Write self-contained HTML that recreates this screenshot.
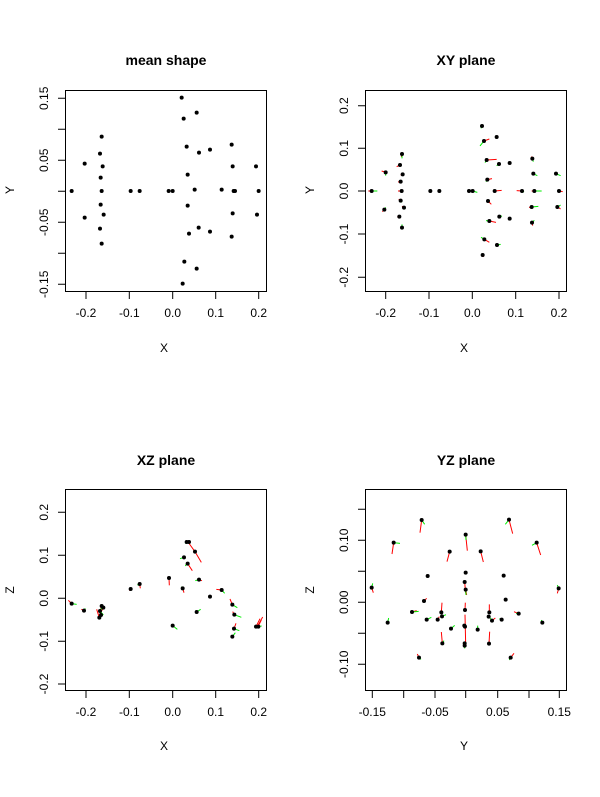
<!DOCTYPE html>
<html><head><meta charset="utf-8"><style>body{margin:0;background:#fff}svg{display:block}text{font-family:"Liberation Sans",Arial,sans-serif;fill:#000}</style></head><body>
<svg width="600" height="797" viewBox="0 0 600 797" xmlns="http://www.w3.org/2000/svg">
<g font-size="14" font-weight="bold" text-anchor="middle">
<text x="166" y="65">mean shape</text><text x="466" y="65">XY plane</text>
<text x="166" y="465">XZ plane</text><text x="466" y="465">YZ plane</text></g>
<g font-size="12" text-anchor="middle">
<text x="164" y="352">X</text><text x="464" y="352">X</text>
<text x="164" y="750">X</text><text x="464" y="750">Y</text>
<text transform="translate(14,190) rotate(-90)">Y</text>
<text transform="translate(314,190) rotate(-90)">Y</text>
<text transform="translate(14,590) rotate(-90)">Z</text>
<text transform="translate(314,590) rotate(-90)">Z</text>
</g>
<g fill="none" stroke="#000" stroke-width="1">
<rect x="65.5" y="90.5" width="201" height="201"/>
<rect x="365.5" y="90.5" width="201" height="201"/>
<rect x="65.5" y="489.5" width="201" height="201"/>
<rect x="365.5" y="489.5" width="201" height="201"/>
<path d="M86,292v7M129.3,292v7M172.7,292v7M215.7,292v7M258.7,292v7M65,98.3h-7M65,129.3h-7M65,160.3h-7M65,191.3h-7M65,222.3h-7M65,253.3h-7M65,284.3h-7"/>
<path d="M385.7,292v7M429,292v7M472.3,292v7M515.7,292v7M559,292v7M365,105.7h-7M365,148.3h-7M365,191h-7M365,234h-7M365,277.3h-7"/>
<path d="M86,691v7M129.3,691v7M172.7,691v7M215.7,691v7M258.7,691v7M65,512.3h-7M65,555.3h-7M65,598.3h-7M65,641.3h-7M65,684h-7"/>
<path d="M372.3,691v7M403.7,691v7M435,691v7M465.7,691v7M497.7,691v7M529,691v7M559.3,691v7M365,509.3h-7M365,540.3h-7M365,571.3h-7M365,602.3h-7M365,633.3h-7M365,664.3h-7"/>
</g>
<g font-size="12" text-anchor="middle">
<text x="86" y="317">-0.2</text><text x="129.3" y="317">-0.1</text><text x="172.7" y="317">0.0</text><text x="215.7" y="317">0.1</text><text x="258.7" y="317">0.2</text>
<text x="385.7" y="317">-0.2</text><text x="429" y="317">-0.1</text><text x="472.3" y="317">0.0</text><text x="515.7" y="317">0.1</text><text x="559" y="317">0.2</text>
<text x="86" y="716">-0.2</text><text x="129.3" y="716">-0.1</text><text x="172.7" y="716">0.0</text><text x="215.7" y="716">0.1</text><text x="258.7" y="716">0.2</text>
<text x="372.3" y="716">-0.15</text><text x="435" y="716">-0.05</text><text x="497.7" y="716">0.05</text><text x="559.3" y="716">0.15</text>
<text transform="translate(48,98.3) rotate(-90)">0.15</text><text transform="translate(48,160.3) rotate(-90)">0.05</text><text transform="translate(48,222.3) rotate(-90)">-0.05</text><text transform="translate(48,284.3) rotate(-90)">-0.15</text>
<text transform="translate(348,105.7) rotate(-90)">0.2</text><text transform="translate(348,148.3) rotate(-90)">0.1</text><text transform="translate(348,191) rotate(-90)">0.0</text><text transform="translate(348,234) rotate(-90)">-0.1</text><text transform="translate(348,277.3) rotate(-90)">-0.2</text>
<text transform="translate(48,512.3) rotate(-90)">0.2</text><text transform="translate(48,555.3) rotate(-90)">0.1</text><text transform="translate(48,598.3) rotate(-90)">0.0</text><text transform="translate(48,641.3) rotate(-90)">-0.1</text><text transform="translate(48,684) rotate(-90)">-0.2</text>
<text transform="translate(348,540.3) rotate(-90)">0.10</text><text transform="translate(348,602.3) rotate(-90)">0.00</text><text transform="translate(348,664.3) rotate(-90)">-0.10</text>
</g>
<!-- panel 1 -->
<g transform="translate(40,85) scale(0.33333)" fill="#000">
<circle cx="425" cy="38" r="6"/><circle cx="470" cy="83" r="6"/><circle cx="431" cy="101" r="6"/><circle cx="185" cy="155" r="6"/><circle cx="575" cy="179" r="6"/><circle cx="440" cy="185" r="6"/><circle cx="510" cy="194" r="6"/><circle cx="180" cy="206" r="6"/><circle cx="477" cy="203" r="6"/><circle cx="134" cy="236" r="6"/><circle cx="188" cy="244" r="6"/><circle cx="578" cy="244" r="6"/><circle cx="648" cy="244" r="6"/><circle cx="182" cy="278" r="6"/><circle cx="443" cy="269" r="6"/><circle cx="95" cy="318" r="6"/><circle cx="185" cy="318" r="6"/><circle cx="272" cy="318" r="6"/><circle cx="299" cy="318" r="6"/><circle cx="386" cy="318" r="6"/><circle cx="398" cy="318" r="6"/><circle cx="464" cy="314" r="6"/><circle cx="545" cy="314" r="6"/><circle cx="581" cy="318" r="6"/><circle cx="585" cy="318" r="6"/><circle cx="656" cy="318" r="6"/><circle cx="182" cy="359" r="6"/><circle cx="443" cy="362" r="6"/><circle cx="191" cy="389" r="6"/><circle cx="578" cy="385" r="6"/><circle cx="651" cy="389" r="6"/><circle cx="134" cy="398" r="6"/><circle cx="180" cy="431" r="6"/><circle cx="476" cy="428" r="6"/><circle cx="510" cy="440" r="6"/><circle cx="447" cy="446" r="6"/><circle cx="575" cy="455" r="6"/><circle cx="185" cy="476" r="6"/><circle cx="433" cy="530" r="6"/><circle cx="470" cy="551" r="6"/><circle cx="428" cy="596" r="6"/>
</g>
<!-- panel 2 -->
<g transform="translate(320,85) scale(0.33333)">
<g stroke="#ff0000" stroke-width="3" fill="none"><path d="M155,318L145,318M197,262L185,258M193,374L187,380M240,240L230,245M246,207L244,216M248,268L242,270M242,290L234,291M245,318L234,318M242,347L236,343M252,368L246,364M238,395L232,396M492,168L508,162M500,225L530,223M502,284L516,281M524,318L545,316M504,348L514,358M508,408L528,412M493,463L508,472M488,510L490,516M606,318L590,317M637,221L635,214M643,318L635,318M635,366L627,367M636,413L638,422M717,318L728,320M712,366L722,372"/></g>
<g stroke="#00ee00" stroke-width="3" fill="none"><path d="M155,318L172,318M197,262L197,272M193,374L197,367M246,207L246,220M245,318L250,318M242,347L246,352M252,368L256,372M246,428L246,418M458,318L472,322M486,123L483,130M492,168L480,183M500,225L495,233M537,237L530,242M502,284L498,290M508,408L498,407M538,395L546,393M531,480L542,478M493,463L483,457M606,318L612,321M637,221L640,230M640,266L652,272M643,318L665,318M635,366L655,364M636,413L643,406M708,266L722,272M717,318L712,318M712,366L722,360"/></g>
<g fill="#000"><circle cx="155" cy="318" r="6"/><circle cx="197" cy="262" r="6"/><circle cx="193" cy="374" r="6"/><circle cx="240" cy="240" r="6"/><circle cx="246" cy="207" r="6"/><circle cx="248" cy="268" r="6"/><circle cx="242" cy="290" r="6"/><circle cx="245" cy="318" r="6"/><circle cx="242" cy="347" r="6"/><circle cx="252" cy="368" r="6"/><circle cx="238" cy="395" r="6"/><circle cx="246" cy="428" r="6"/><circle cx="331" cy="318" r="6"/><circle cx="358" cy="318" r="6"/><circle cx="447" cy="318" r="6"/><circle cx="458" cy="318" r="6"/><circle cx="486" cy="123" r="6"/><circle cx="492" cy="168" r="6"/><circle cx="530" cy="156" r="6"/><circle cx="500" cy="225" r="6"/><circle cx="537" cy="237" r="6"/><circle cx="569" cy="234" r="6"/><circle cx="502" cy="284" r="6"/><circle cx="524" cy="318" r="6"/><circle cx="504" cy="348" r="6"/><circle cx="508" cy="408" r="6"/><circle cx="538" cy="395" r="6"/><circle cx="569" cy="401" r="6"/><circle cx="493" cy="463" r="6"/><circle cx="531" cy="480" r="6"/><circle cx="488" cy="510" r="6"/><circle cx="606" cy="318" r="6"/><circle cx="637" cy="221" r="6"/><circle cx="640" cy="266" r="6"/><circle cx="643" cy="318" r="6"/><circle cx="635" cy="366" r="6"/><circle cx="636" cy="413" r="6"/><circle cx="708" cy="266" r="6"/><circle cx="717" cy="318" r="6"/><circle cx="712" cy="366" r="6"/></g>
</g>
<!-- panel 3 -->
<g transform="translate(40,480) scale(0.33333)">
<g stroke="#ff0000" stroke-width="3" fill="none"><path d="M95,371L85,361M132,392L124,388M185,378L180,395M178,413L170,388M190,383L176,410M272,327L268,332M299,312L301,325M387,294L388,316M428,325L432,338M444,186L465,215L484,247M443,251L457,272M477,299L486,302M545,330L529,328M577,374L570,357M583,404L578,395M582,446L588,430M652,440L668,411M648,440L660,416M655,438L664,420"/></g>
<g stroke="#00ee00" stroke-width="3" fill="none"><path d="M95,371L110,373M132,392L136,385M185,378L182,400M180,393L190,405M183,405L176,415M299,312L292,315M428,325L424,320M398,437L412,448M444,186L435,190M432,232L420,236M440,251L436,258M477,299L466,302M545,330L554,340M470,396L482,388M577,374L592,383M583,404L604,412M582,446L598,452M577,470L586,458M652,440L665,438"/></g>
<g fill="#000"><circle cx="95" cy="371" r="6"/><circle cx="132" cy="392" r="6"/><circle cx="185" cy="378" r="6"/><circle cx="190" cy="383" r="6"/><circle cx="180" cy="393" r="6"/><circle cx="183" cy="405" r="6"/><circle cx="178" cy="413" r="6"/><circle cx="272" cy="327" r="6"/><circle cx="299" cy="312" r="6"/><circle cx="387" cy="294" r="6"/><circle cx="428" cy="325" r="6"/><circle cx="398" cy="437" r="6"/><circle cx="440" cy="186" r="6"/><circle cx="447" cy="186" r="6"/><circle cx="465" cy="215" r="6"/><circle cx="432" cy="232" r="6"/><circle cx="443" cy="251" r="6"/><circle cx="477" cy="299" r="6"/><circle cx="510" cy="350" r="6"/><circle cx="545" cy="330" r="6"/><circle cx="470" cy="396" r="6"/><circle cx="577" cy="374" r="6"/><circle cx="583" cy="404" r="6"/><circle cx="582" cy="446" r="6"/><circle cx="577" cy="470" r="6"/><circle cx="648" cy="440" r="6"/><circle cx="655" cy="440" r="6"/></g>
</g>
<!-- panel 4 -->
<g transform="translate(320,480) scale(0.33333)">
<g stroke="#ff0000" stroke-width="3" fill="none"><path d="M305,120L300,158M437,164L442,212M567,119L578,161M221,188L216,222M650,188L662,225M389,215L381,245M482,214L490,246M155,323L160,338M716,325L712,340M434,306L437,340M437,329L440,345M312,363L320,355M276,396L290,392M596,401L582,395M353,419L358,410M364,397L366,368M508,397L508,373M516,422L526,414M435,390L436,368M435,404L437,492M367,490L364,456M507,491L509,455M297,533L292,522M572,533L582,520"/></g>
<g stroke="#00ee00" stroke-width="3" fill="none"><path d="M305,120L314,133M437,164L438,180M567,119L556,133M221,188L240,190M650,188L636,196M155,323L158,310M716,325L712,315M437,329L438,345M276,396L296,394M596,401L588,400M320,419L334,412M366,409L378,404M506,410L514,418M545,419L538,416M203,428L206,414M667,428L664,420M393,446L404,436M473,449L473,437M367,490L372,482M434,497L434,505M297,533L303,538M572,533L568,540"/></g>
<g fill="#000"><circle cx="305" cy="120" r="6"/><circle cx="437" cy="164" r="6"/><circle cx="567" cy="119" r="6"/><circle cx="221" cy="188" r="6"/><circle cx="650" cy="188" r="6"/><circle cx="389" cy="215" r="6"/><circle cx="482" cy="214" r="6"/><circle cx="155" cy="323" r="6"/><circle cx="716" cy="325" r="6"/><circle cx="323" cy="288" r="6"/><circle cx="437" cy="278" r="6"/><circle cx="551" cy="287" r="6"/><circle cx="434" cy="306" r="6"/><circle cx="437" cy="329" r="6"/><circle cx="312" cy="363" r="6"/><circle cx="557" cy="359" r="6"/><circle cx="276" cy="396" r="6"/><circle cx="596" cy="401" r="6"/><circle cx="320" cy="419" r="6"/><circle cx="353" cy="419" r="6"/><circle cx="364" cy="397" r="6"/><circle cx="366" cy="409" r="6"/><circle cx="508" cy="397" r="6"/><circle cx="506" cy="410" r="6"/><circle cx="516" cy="422" r="6"/><circle cx="545" cy="419" r="6"/><circle cx="203" cy="428" r="6"/><circle cx="667" cy="428" r="6"/><circle cx="393" cy="446" r="6"/><circle cx="435" cy="390" r="6"/><circle cx="433" cy="437" r="6"/><circle cx="435" cy="440" r="6"/><circle cx="473" cy="449" r="6"/><circle cx="367" cy="490" r="6"/><circle cx="434" cy="490" r="6"/><circle cx="434" cy="497" r="6"/><circle cx="507" cy="491" r="6"/><circle cx="297" cy="533" r="6"/><circle cx="572" cy="533" r="6"/></g>
</g>
</svg>
</body></html>
